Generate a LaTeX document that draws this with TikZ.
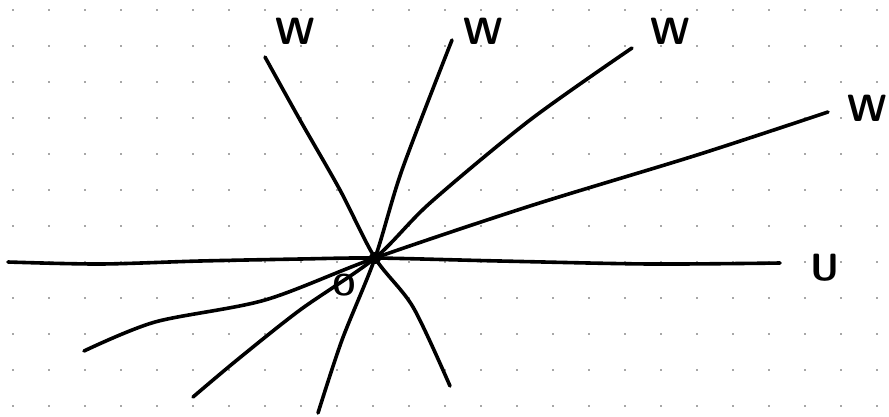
\documentclass[tikz,border=0pt]{standalone}
\usepackage{tikz}
\usetikzlibrary{positioning, calc}

\begin{document}
\begin{tikzpicture}[x=1pt, y=-1pt,
    pen/.style={line width=3.6pt, line cap=round, line join=round},
    hand/.style={font=\sffamily\bfseries\fontsize{38}{38}\selectfont, inner sep=0pt}]

    % 1. Dotted paper
    % Grid of small dots, 36 units apart
    \useasboundingbox (0, 0) rectangle (889, 416);
    \foreach \i in {0,...,24}
        \foreach \j in {0,...,11}
            \fill[black!70] (13+36*\i, 10+36*\j) circle (0.9pt);

    % 2. Common point of all lines
    \coordinate (c) at (375, 258);
    \fill (c) circle (6pt);

    % 3. Horizontal line
    \coordinate (u0) at (8, 262);
    \coordinate (u1) at (780, 263);
    \draw[pen] plot[smooth] coordinates {(u0) (100, 264) (200, 261) (300, 259) (c) (500, 261) (650, 264) (u1)};

    % 4. Steep line falling to the right
    \coordinate (a0) at (265, 57);
    \coordinate (a1) at (450, 386);
    \draw[pen] plot[smooth] coordinates {(a0) (300, 120) (340, 190) (c) (413, 307) (a1)};

    % 5. Steep line rising to the right
    \coordinate (b0) at (452, 40);
    \coordinate (b1) at (318, 413);
    \draw[pen] plot[smooth] coordinates {(b0) (402, 170) (c) (342, 340) (b1)};

    % 6. Middle line
    \coordinate (l0) at (632, 48);
    \coordinate (l1) at (193, 397);
    \draw[pen] plot[smooth] coordinates {(l0) (530, 120) (430, 203) (c) (300, 310) (237, 360) (l1)};

    % 7. Flat line
    \coordinate (f0) at (828, 112);
    \coordinate (f1) at (84, 351);
    \draw[pen] plot[smooth] coordinates {(f0) (697, 155) (530, 206) (c) (265, 300) (155, 322) (f1)};

    % 8. Labels
    \node[hand] (wa) at (295, 31) {W};
    \node[hand] (wb) at (483, 31) {W};
    \node[hand] (wc) at (670, 31) {W};
    \node[hand] (wd) at (867, 108) {W};
    \node[hand] (u) at (825, 268) {U};
    \node[hand, font=\sffamily\bfseries\fontsize{30}{30}\selectfont] (o) at (344, 285) {O};

\end{tikzpicture}
\end{document}
